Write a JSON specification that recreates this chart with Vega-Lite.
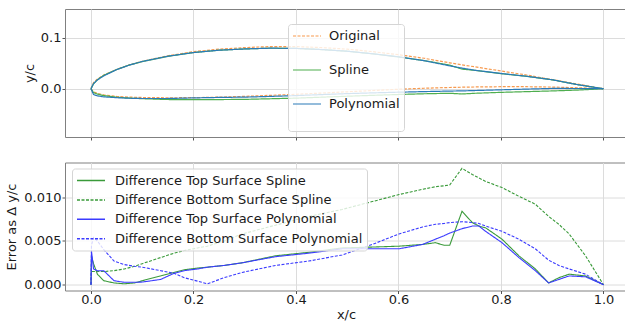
{
 "$schema": "https://vega.github.io/schema/vega-lite/v6.json",
 "autosize": {"type": "pad"},
 "padding": {"left": 5, "top": 8, "right": 0, "bottom": 0},
 "config": {
  "font": "DejaVu Sans",
  "view": {"stroke": "#808080", "strokeWidth": 1},
  "axis": {"labelFont": "DejaVu Sans", "labelFontSize": 13, "labelColor": "#1a1a1a", "titleFont": "DejaVu Sans", "titleFontSize": 13, "titleFontWeight": "normal", "titleColor": "#1a1a1a", "domain": false, "tickColor": "#555", "tickSize": 3, "labelPadding": 1, "gridColor": "#dcdcdc", "grid": true},
  "legend": {"labelFont": "DejaVu Sans", "labelFontSize": 13, "labelColor": "#1a1a1a", "labelLimit": 0},
  "concat": {"spacing": 20.5}
 },
 "resolve": {"scale": {"color": "independent", "strokeDash": "independent"}, "legend": {"color": "independent", "strokeDash": "independent"}},
 "vconcat": [
  {
   "width": 562, "height": 128,
   "data": {"values": [
    {"x":0,"y":0,"s":"Original","f":"u"},{"x":0.005,"y":0.012,"s":"Original","f":"u"},{"x":0.0125,"y":0.019,"s":"Original","f":"u"},{"x":0.025,"y":0.027,"s":"Original","f":"u"},{"x":0.05,"y":0.038,"s":"Original","f":"u"},{"x":0.075,"y":0.047,"s":"Original","f":"u"},{"x":0.1,"y":0.054,"s":"Original","f":"u"},{"x":0.15,"y":0.065,"s":"Original","f":"u"},{"x":0.2,"y":0.073,"s":"Original","f":"u"},{"x":0.25,"y":0.078,"s":"Original","f":"u"},{"x":0.3,"y":0.081,"s":"Original","f":"u"},{"x":0.35,"y":0.083,"s":"Original","f":"u"},{"x":0.4,"y":0.083,"s":"Original","f":"u"},{"x":0.45,"y":0.081,"s":"Original","f":"u"},{"x":0.5,"y":0.078,"s":"Original","f":"u"},{"x":0.55,"y":0.073,"s":"Original","f":"u"},{"x":0.6,"y":0.067,"s":"Original","f":"u"},{"x":0.65,"y":0.06,"s":"Original","f":"u"},{"x":0.7,"y":0.051,"s":"Original","f":"u"},{"x":0.724,"y":0.047,"s":"Original","f":"u"},{"x":0.75,"y":0.043,"s":"Original","f":"u"},{"x":0.8,"y":0.035,"s":"Original","f":"u"},{"x":0.85,"y":0.027,"s":"Original","f":"u"},{"x":0.9,"y":0.018,"s":"Original","f":"u"},{"x":0.95,"y":0.009,"s":"Original","f":"u"},{"x":1,"y":0,"s":"Original","f":"u"},
    {"x":0,"y":0,"s":"Original","f":"l"},{"x":0.005,"y":-0.006,"s":"Original","f":"l"},{"x":0.0125,"y":-0.009,"s":"Original","f":"l"},{"x":0.025,"y":-0.012,"s":"Original","f":"l"},{"x":0.05,"y":-0.015,"s":"Original","f":"l"},{"x":0.075,"y":-0.0165,"s":"Original","f":"l"},{"x":0.1,"y":-0.0172,"s":"Original","f":"l"},{"x":0.15,"y":-0.0178,"s":"Original","f":"l"},{"x":0.2,"y":-0.0175,"s":"Original","f":"l"},{"x":0.25,"y":-0.0165,"s":"Original","f":"l"},{"x":0.3,"y":-0.015,"s":"Original","f":"l"},{"x":0.35,"y":-0.013,"s":"Original","f":"l"},{"x":0.4,"y":-0.011,"s":"Original","f":"l"},{"x":0.45,"y":-0.0085,"s":"Original","f":"l"},{"x":0.5,"y":-0.006,"s":"Original","f":"l"},{"x":0.55,"y":-0.0035,"s":"Original","f":"l"},{"x":0.6,"y":-0.001,"s":"Original","f":"l"},{"x":0.65,"y":0.001,"s":"Original","f":"l"},{"x":0.7,"y":0.0025,"s":"Original","f":"l"},{"x":0.724,"y":0.003,"s":"Original","f":"l"},{"x":0.75,"y":0.0035,"s":"Original","f":"l"},{"x":0.8,"y":0.004,"s":"Original","f":"l"},{"x":0.85,"y":0.004,"s":"Original","f":"l"},{"x":0.9,"y":0.0033,"s":"Original","f":"l"},{"x":0.95,"y":0.002,"s":"Original","f":"l"},{"x":1,"y":0,"s":"Original","f":"l"},
    {"x":0,"y":0,"s":"Spline","f":"u"},{"x":0.005,"y":0.0096,"s":"Spline","f":"u"},{"x":0.0125,"y":0.0178,"s":"Spline","f":"u"},{"x":0.025,"y":0.0265,"s":"Spline","f":"u"},{"x":0.05,"y":0.0378,"s":"Spline","f":"u"},{"x":0.075,"y":0.0469,"s":"Spline","f":"u"},{"x":0.1,"y":0.0535,"s":"Spline","f":"u"},{"x":0.15,"y":0.0638,"s":"Spline","f":"u"},{"x":0.2,"y":0.0712,"s":"Spline","f":"u"},{"x":0.25,"y":0.0759,"s":"Spline","f":"u"},{"x":0.3,"y":0.0784,"s":"Spline","f":"u"},{"x":0.35,"y":0.0798,"s":"Spline","f":"u"},{"x":0.4,"y":0.0794,"s":"Spline","f":"u"},{"x":0.45,"y":0.0771,"s":"Spline","f":"u"},{"x":0.5,"y":0.0738,"s":"Spline","f":"u"},{"x":0.55,"y":0.0687,"s":"Spline","f":"u"},{"x":0.6,"y":0.0626,"s":"Spline","f":"u"},{"x":0.65,"y":0.0554,"s":"Spline","f":"u"},{"x":0.7,"y":0.0465,"s":"Spline","f":"u"},{"x":0.724,"y":0.0386,"s":"Spline","f":"u"},{"x":0.75,"y":0.0361,"s":"Spline","f":"u"},{"x":0.8,"y":0.0297,"s":"Spline","f":"u"},{"x":0.85,"y":0.0244,"s":"Spline","f":"u"},{"x":0.9,"y":0.0176,"s":"Spline","f":"u"},{"x":0.95,"y":0.0079,"s":"Spline","f":"u"},{"x":1,"y":0,"s":"Spline","f":"u"},
    {"x":0,"y":0,"s":"Spline","f":"l"},{"x":0.005,"y":-0.0075,"s":"Spline","f":"l"},{"x":0.0125,"y":-0.0105,"s":"Spline","f":"l"},{"x":0.025,"y":-0.0135,"s":"Spline","f":"l"},{"x":0.05,"y":-0.0166,"s":"Spline","f":"l"},{"x":0.075,"y":-0.0184,"s":"Spline","f":"l"},{"x":0.1,"y":-0.0196,"s":"Spline","f":"l"},{"x":0.15,"y":-0.0212,"s":"Spline","f":"l"},{"x":0.2,"y":-0.0216,"s":"Spline","f":"l"},{"x":0.25,"y":-0.0213,"s":"Spline","f":"l"},{"x":0.3,"y":-0.0209,"s":"Spline","f":"l"},{"x":0.35,"y":-0.0197,"s":"Spline","f":"l"},{"x":0.4,"y":-0.0185,"s":"Spline","f":"l"},{"x":0.45,"y":-0.0166,"s":"Spline","f":"l"},{"x":0.5,"y":-0.0147,"s":"Spline","f":"l"},{"x":0.55,"y":-0.013,"s":"Spline","f":"l"},{"x":0.6,"y":-0.0113,"s":"Spline","f":"l"},{"x":0.65,"y":-0.0099,"s":"Spline","f":"l"},{"x":0.7,"y":-0.0089,"s":"Spline","f":"l"},{"x":0.724,"y":-0.0103,"s":"Spline","f":"l"},{"x":0.75,"y":-0.0089,"s":"Spline","f":"l"},{"x":0.8,"y":-0.0071,"s":"Spline","f":"l"},{"x":0.85,"y":-0.0057,"s":"Spline","f":"l"},{"x":0.9,"y":-0.0043,"s":"Spline","f":"l"},{"x":0.95,"y":-0.0026,"s":"Spline","f":"l"},{"x":1,"y":0,"s":"Spline","f":"l"},
    {"x":0,"y":0,"s":"Polynomial","f":"u"},{"x":0.005,"y":0.0102,"s":"Polynomial","f":"u"},{"x":0.0125,"y":0.0174,"s":"Polynomial","f":"u"},{"x":0.025,"y":0.0254,"s":"Polynomial","f":"u"},{"x":0.05,"y":0.0376,"s":"Polynomial","f":"u"},{"x":0.075,"y":0.0467,"s":"Polynomial","f":"u"},{"x":0.1,"y":0.0537,"s":"Polynomial","f":"u"},{"x":0.15,"y":0.064,"s":"Polynomial","f":"u"},{"x":0.2,"y":0.0713,"s":"Polynomial","f":"u"},{"x":0.25,"y":0.0759,"s":"Polynomial","f":"u"},{"x":0.3,"y":0.0784,"s":"Polynomial","f":"u"},{"x":0.35,"y":0.0799,"s":"Polynomial","f":"u"},{"x":0.4,"y":0.0795,"s":"Polynomial","f":"u"},{"x":0.45,"y":0.0772,"s":"Polynomial","f":"u"},{"x":0.5,"y":0.0739,"s":"Polynomial","f":"u"},{"x":0.55,"y":0.0689,"s":"Polynomial","f":"u"},{"x":0.6,"y":0.0629,"s":"Polynomial","f":"u"},{"x":0.65,"y":0.0553,"s":"Polynomial","f":"u"},{"x":0.7,"y":0.0451,"s":"Polynomial","f":"u"},{"x":0.724,"y":0.0406,"s":"Polynomial","f":"u"},{"x":0.75,"y":0.0363,"s":"Polynomial","f":"u"},{"x":0.8,"y":0.0301,"s":"Polynomial","f":"u"},{"x":0.85,"y":0.0246,"s":"Polynomial","f":"u"},{"x":0.9,"y":0.0177,"s":"Polynomial","f":"u"},{"x":0.95,"y":0.008,"s":"Polynomial","f":"u"},{"x":1,"y":0,"s":"Polynomial","f":"u"},
    {"x":0,"y":0,"s":"Polynomial","f":"l"},{"x":0.005,"y":-0.0114,"s":"Polynomial","f":"l"},{"x":0.0125,"y":-0.014,"s":"Polynomial","f":"l"},{"x":0.025,"y":-0.016,"s":"Polynomial","f":"l"},{"x":0.05,"y":-0.0176,"s":"Polynomial","f":"l"},{"x":0.075,"y":-0.0187,"s":"Polynomial","f":"l"},{"x":0.1,"y":-0.0192,"s":"Polynomial","f":"l"},{"x":0.15,"y":-0.0192,"s":"Polynomial","f":"l"},{"x":0.2,"y":-0.018,"s":"Polynomial","f":"l"},{"x":0.25,"y":-0.0171,"s":"Polynomial","f":"l"},{"x":0.3,"y":-0.0165,"s":"Polynomial","f":"l"},{"x":0.35,"y":-0.0151,"s":"Polynomial","f":"l"},{"x":0.4,"y":-0.0135,"s":"Polynomial","f":"l"},{"x":0.45,"y":-0.0115,"s":"Polynomial","f":"l"},{"x":0.5,"y":-0.0096,"s":"Polynomial","f":"l"},{"x":0.55,"y":-0.0081,"s":"Polynomial","f":"l"},{"x":0.6,"y":-0.0068,"s":"Polynomial","f":"l"},{"x":0.65,"y":-0.0056,"s":"Polynomial","f":"l"},{"x":0.7,"y":-0.0046,"s":"Polynomial","f":"l"},{"x":0.724,"y":-0.0042,"s":"Polynomial","f":"l"},{"x":0.75,"y":-0.0035,"s":"Polynomial","f":"l"},{"x":0.8,"y":-0.0021,"s":"Polynomial","f":"l"},{"x":0.85,"y":-0.0007,"s":"Polynomial","f":"l"},{"x":0.9,"y":0.0006,"s":"Polynomial","f":"l"},{"x":0.95,"y":0.0005,"s":"Polynomial","f":"l"},{"x":1,"y":0,"s":"Polynomial","f":"l"}
   ]},
   "mark": {"type": "line", "strokeWidth": 1.2, "clip": true},
   "encoding": {
    "x": {"field": "x", "type": "quantitative", "scale": {"domain": [-0.0507, 1.0459], "nice": false, "zero": false}, "axis": {"values": [0, 0.2, 0.4, 0.6, 0.8, 1], "labels": false, "title": null}},
    "y": {"field": "y", "type": "quantitative", "scale": {"domain": [-0.095, 0.157], "nice": false, "zero": false}, "axis": {"values": [0, 0.1], "format": ".1f", "title": "y/c", "titlePadding": 4}},
    "color": {"field": "s", "type": "nominal", "scale": {"domain": ["Original", "Spline", "Polynomial"], "range": ["#f79a4f", "#4fae4f", "#2a7ab8"]},
     "legend": {"title": " ", "titleOrient": "bottom", "titleFontSize": 13, "titlePadding": 3, "orient": "none", "legendX": 223, "legendY": 15, "symbolType": "M-2,0H2", "symbolSize": 196, "symbolStrokeWidth": 1.2, "symbolOffset": 7, "labelOffset": 14, "rowPadding": 19, "padding": 4, "fillColor": "rgba(255,255,255,0.8)", "strokeColor": "#d5d5d5", "cornerRadius": 3}},
    "strokeDash": {"field": "s", "type": "nominal", "scale": {"domain": ["Original", "Spline", "Polynomial"], "range": [[3, 1.5], [1, 0], [1, 0]]},
     "legend": {"title": " ", "titleOrient": "bottom", "titleFontSize": 13, "titlePadding": 3, "orient": "none", "legendX": 223, "legendY": 15, "symbolType": "M-2,0H2", "symbolSize": 196, "symbolStrokeWidth": 1.2, "symbolOffset": 7, "labelOffset": 14, "rowPadding": 19, "padding": 4, "fillColor": "rgba(255,255,255,0.8)", "strokeColor": "#d5d5d5", "cornerRadius": 3}},
    "detail": {"field": "f"}
   }
  },
  {
   "width": 562, "height": 128,
   "data": {"values": [
    {"x":0,"e":0,"s":"Difference Top Surface Spline"},{"x":0.001,"e":0.0033,"s":"Difference Top Surface Spline"},{"x":0.005,"e":0.0024,"s":"Difference Top Surface Spline"},{"x":0.0125,"e":0.0012,"s":"Difference Top Surface Spline"},{"x":0.025,"e":0.00045,"s":"Difference Top Surface Spline"},{"x":0.045,"e":0.0002,"s":"Difference Top Surface Spline"},{"x":0.065,"e":0.0001,"s":"Difference Top Surface Spline"},{"x":0.085,"e":0.0002,"s":"Difference Top Surface Spline"},{"x":0.1,"e":0.00045,"s":"Difference Top Surface Spline"},{"x":0.136,"e":0.001,"s":"Difference Top Surface Spline"},{"x":0.162,"e":0.0014,"s":"Difference Top Surface Spline"},{"x":0.182,"e":0.0017,"s":"Difference Top Surface Spline"},{"x":0.208,"e":0.0019,"s":"Difference Top Surface Spline"},{"x":0.227,"e":0.002,"s":"Difference Top Surface Spline"},{"x":0.26,"e":0.0022,"s":"Difference Top Surface Spline"},{"x":0.295,"e":0.0025,"s":"Difference Top Surface Spline"},{"x":0.36,"e":0.0033,"s":"Difference Top Surface Spline"},{"x":0.425,"e":0.0037,"s":"Difference Top Surface Spline"},{"x":0.49,"e":0.0042,"s":"Difference Top Surface Spline"},{"x":0.549,"e":0.0043,"s":"Difference Top Surface Spline"},{"x":0.601,"e":0.0044,"s":"Difference Top Surface Spline"},{"x":0.647,"e":0.0046,"s":"Difference Top Surface Spline"},{"x":0.672,"e":0.0048,"s":"Difference Top Surface Spline"},{"x":0.689,"e":0.0045,"s":"Difference Top Surface Spline"},{"x":0.7,"e":0.0045,"s":"Difference Top Surface Spline"},{"x":0.724,"e":0.0084,"s":"Difference Top Surface Spline"},{"x":0.744,"e":0.0071,"s":"Difference Top Surface Spline"},{"x":0.757,"e":0.0067,"s":"Difference Top Surface Spline"},{"x":0.77,"e":0.0065,"s":"Difference Top Surface Spline"},{"x":0.802,"e":0.0052,"s":"Difference Top Surface Spline"},{"x":0.835,"e":0.0033,"s":"Difference Top Surface Spline"},{"x":0.867,"e":0.0018,"s":"Difference Top Surface Spline"},{"x":0.893,"e":0.0002,"s":"Difference Top Surface Spline"},{"x":0.913,"e":0.0008,"s":"Difference Top Surface Spline"},{"x":0.933,"e":0.0012,"s":"Difference Top Surface Spline"},{"x":0.965,"e":0.001,"s":"Difference Top Surface Spline"},{"x":1,"e":0,"s":"Difference Top Surface Spline"},
    {"x":0,"e":0,"s":"Difference Bottom Surface Spline"},{"x":0.001,"e":0.0015,"s":"Difference Bottom Surface Spline"},{"x":0.005,"e":0.0015,"s":"Difference Bottom Surface Spline"},{"x":0.0125,"e":0.0015,"s":"Difference Bottom Surface Spline"},{"x":0.025,"e":0.0015,"s":"Difference Bottom Surface Spline"},{"x":0.045,"e":0.0016,"s":"Difference Bottom Surface Spline"},{"x":0.065,"e":0.0018,"s":"Difference Bottom Surface Spline"},{"x":0.085,"e":0.0021,"s":"Difference Bottom Surface Spline"},{"x":0.1,"e":0.0024,"s":"Difference Bottom Surface Spline"},{"x":0.136,"e":0.0031,"s":"Difference Bottom Surface Spline"},{"x":0.162,"e":0.0036,"s":"Difference Bottom Surface Spline"},{"x":0.182,"e":0.0039,"s":"Difference Bottom Surface Spline"},{"x":0.208,"e":0.0042,"s":"Difference Bottom Surface Spline"},{"x":0.227,"e":0.0044,"s":"Difference Bottom Surface Spline"},{"x":0.26,"e":0.005,"s":"Difference Bottom Surface Spline"},{"x":0.295,"e":0.0058,"s":"Difference Bottom Surface Spline"},{"x":0.36,"e":0.0068,"s":"Difference Bottom Surface Spline"},{"x":0.425,"e":0.0078,"s":"Difference Bottom Surface Spline"},{"x":0.49,"e":0.0086,"s":"Difference Bottom Surface Spline"},{"x":0.549,"e":0.0095,"s":"Difference Bottom Surface Spline"},{"x":0.601,"e":0.0103,"s":"Difference Bottom Surface Spline"},{"x":0.647,"e":0.0109,"s":"Difference Bottom Surface Spline"},{"x":0.672,"e":0.0112,"s":"Difference Bottom Surface Spline"},{"x":0.689,"e":0.0113,"s":"Difference Bottom Surface Spline"},{"x":0.7,"e":0.0114,"s":"Difference Bottom Surface Spline"},{"x":0.724,"e":0.0133,"s":"Difference Bottom Surface Spline"},{"x":0.744,"e":0.0126,"s":"Difference Bottom Surface Spline"},{"x":0.757,"e":0.0122,"s":"Difference Bottom Surface Spline"},{"x":0.77,"e":0.0118,"s":"Difference Bottom Surface Spline"},{"x":0.802,"e":0.0111,"s":"Difference Bottom Surface Spline"},{"x":0.835,"e":0.0101,"s":"Difference Bottom Surface Spline"},{"x":0.867,"e":0.0092,"s":"Difference Bottom Surface Spline"},{"x":0.893,"e":0.0078,"s":"Difference Bottom Surface Spline"},{"x":0.913,"e":0.0069,"s":"Difference Bottom Surface Spline"},{"x":0.933,"e":0.0058,"s":"Difference Bottom Surface Spline"},{"x":0.965,"e":0.0033,"s":"Difference Bottom Surface Spline"},{"x":1,"e":0,"s":"Difference Bottom Surface Spline"},
    {"x":0,"e":0,"s":"Difference Top Surface Polynomial"},{"x":0.001,"e":0.0038,"s":"Difference Top Surface Polynomial"},{"x":0.005,"e":0.0018,"s":"Difference Top Surface Polynomial"},{"x":0.0125,"e":0.0016,"s":"Difference Top Surface Polynomial"},{"x":0.025,"e":0.0016,"s":"Difference Top Surface Polynomial"},{"x":0.045,"e":0.00045,"s":"Difference Top Surface Polynomial"},{"x":0.065,"e":0.00027,"s":"Difference Top Surface Polynomial"},{"x":0.085,"e":0.00027,"s":"Difference Top Surface Polynomial"},{"x":0.1,"e":0.0003,"s":"Difference Top Surface Polynomial"},{"x":0.136,"e":0.0006,"s":"Difference Top Surface Polynomial"},{"x":0.162,"e":0.0013,"s":"Difference Top Surface Polynomial"},{"x":0.182,"e":0.0016,"s":"Difference Top Surface Polynomial"},{"x":0.208,"e":0.0018,"s":"Difference Top Surface Polynomial"},{"x":0.227,"e":0.002,"s":"Difference Top Surface Polynomial"},{"x":0.26,"e":0.0022,"s":"Difference Top Surface Polynomial"},{"x":0.295,"e":0.0025,"s":"Difference Top Surface Polynomial"},{"x":0.36,"e":0.0032,"s":"Difference Top Surface Polynomial"},{"x":0.425,"e":0.0036,"s":"Difference Top Surface Polynomial"},{"x":0.49,"e":0.0041,"s":"Difference Top Surface Polynomial"},{"x":0.549,"e":0.0041,"s":"Difference Top Surface Polynomial"},{"x":0.601,"e":0.0041,"s":"Difference Top Surface Polynomial"},{"x":0.647,"e":0.0046,"s":"Difference Top Surface Polynomial"},{"x":0.672,"e":0.0052,"s":"Difference Top Surface Polynomial"},{"x":0.689,"e":0.0056,"s":"Difference Top Surface Polynomial"},{"x":0.7,"e":0.0059,"s":"Difference Top Surface Polynomial"},{"x":0.724,"e":0.0064,"s":"Difference Top Surface Polynomial"},{"x":0.744,"e":0.0067,"s":"Difference Top Surface Polynomial"},{"x":0.757,"e":0.0067,"s":"Difference Top Surface Polynomial"},{"x":0.77,"e":0.0061,"s":"Difference Top Surface Polynomial"},{"x":0.802,"e":0.0048,"s":"Difference Top Surface Polynomial"},{"x":0.835,"e":0.0031,"s":"Difference Top Surface Polynomial"},{"x":0.867,"e":0.0016,"s":"Difference Top Surface Polynomial"},{"x":0.893,"e":0.0002,"s":"Difference Top Surface Polynomial"},{"x":0.913,"e":0.0006,"s":"Difference Top Surface Polynomial"},{"x":0.933,"e":0.001,"s":"Difference Top Surface Polynomial"},{"x":0.965,"e":0.0009,"s":"Difference Top Surface Polynomial"},{"x":1,"e":0,"s":"Difference Top Surface Polynomial"},
    {"x":0,"e":0,"s":"Difference Bottom Surface Polynomial"},{"x":0.001,"e":0.0045,"s":"Difference Bottom Surface Polynomial"},{"x":0.005,"e":0.0054,"s":"Difference Bottom Surface Polynomial"},{"x":0.0125,"e":0.005,"s":"Difference Bottom Surface Polynomial"},{"x":0.025,"e":0.004,"s":"Difference Bottom Surface Polynomial"},{"x":0.045,"e":0.0027,"s":"Difference Bottom Surface Polynomial"},{"x":0.065,"e":0.0023,"s":"Difference Bottom Surface Polynomial"},{"x":0.085,"e":0.0021,"s":"Difference Bottom Surface Polynomial"},{"x":0.1,"e":0.002,"s":"Difference Bottom Surface Polynomial"},{"x":0.136,"e":0.0016,"s":"Difference Bottom Surface Polynomial"},{"x":0.162,"e":0.0013,"s":"Difference Bottom Surface Polynomial"},{"x":0.182,"e":0.0008,"s":"Difference Bottom Surface Polynomial"},{"x":0.208,"e":0.0004,"s":"Difference Bottom Surface Polynomial"},{"x":0.227,"e":0.0001,"s":"Difference Bottom Surface Polynomial"},{"x":0.26,"e":0.0008,"s":"Difference Bottom Surface Polynomial"},{"x":0.295,"e":0.0014,"s":"Difference Bottom Surface Polynomial"},{"x":0.36,"e":0.0022,"s":"Difference Bottom Surface Polynomial"},{"x":0.425,"e":0.0027,"s":"Difference Bottom Surface Polynomial"},{"x":0.49,"e":0.0034,"s":"Difference Bottom Surface Polynomial"},{"x":0.549,"e":0.0046,"s":"Difference Bottom Surface Polynomial"},{"x":0.601,"e":0.0058,"s":"Difference Bottom Surface Polynomial"},{"x":0.647,"e":0.0066,"s":"Difference Bottom Surface Polynomial"},{"x":0.672,"e":0.0069,"s":"Difference Bottom Surface Polynomial"},{"x":0.689,"e":0.007,"s":"Difference Bottom Surface Polynomial"},{"x":0.7,"e":0.0071,"s":"Difference Bottom Surface Polynomial"},{"x":0.724,"e":0.0072,"s":"Difference Bottom Surface Polynomial"},{"x":0.744,"e":0.0071,"s":"Difference Bottom Surface Polynomial"},{"x":0.757,"e":0.007,"s":"Difference Bottom Surface Polynomial"},{"x":0.77,"e":0.0067,"s":"Difference Bottom Surface Polynomial"},{"x":0.802,"e":0.0061,"s":"Difference Bottom Surface Polynomial"},{"x":0.835,"e":0.0052,"s":"Difference Bottom Surface Polynomial"},{"x":0.867,"e":0.0041,"s":"Difference Bottom Surface Polynomial"},{"x":0.893,"e":0.0028,"s":"Difference Bottom Surface Polynomial"},{"x":0.913,"e":0.0022,"s":"Difference Bottom Surface Polynomial"},{"x":0.933,"e":0.0018,"s":"Difference Bottom Surface Polynomial"},{"x":0.965,"e":0.0012,"s":"Difference Bottom Surface Polynomial"},{"x":1,"e":0,"s":"Difference Bottom Surface Polynomial"}
   ]},
   "mark": {"type": "line", "strokeWidth": 1.1, "clip": true},
   "encoding": {
    "x": {"field": "x", "type": "quantitative", "scale": {"domain": [-0.0507, 1.0459], "nice": false, "zero": false}, "axis": {"values": [0, 0.2, 0.4, 0.6, 0.8, 1], "format": ".1f", "title": "x/c", "titlePadding": 2, "labelPadding": 0}},
    "y": {"field": "e", "type": "quantitative", "scale": {"domain": [-0.000665, 0.013965], "nice": false, "zero": false}, "axis": {"values": [0, 0.005, 0.01], "format": ".3f", "title": "Error as Δ y/c", "titlePadding": 5}},
    "color": {"field": "s", "type": "nominal", "scale": {"domain": ["Difference Top Surface Spline", "Difference Bottom Surface Spline", "Difference Top Surface Polynomial", "Difference Bottom Surface Polynomial"], "range": ["#3a9a3a", "#3a9a3a", "#3b3bff", "#3b3bff"]},
     "legend": {"title": null, "orient": "none", "legendX": 7, "legendY": 6, "symbolType": "M-2,0H2", "symbolSize": 196, "symbolStrokeWidth": 1.5, "symbolOffset": 7, "labelOffset": 16, "rowPadding": 4.4, "padding": 4, "fillColor": "rgba(255,255,255,0.8)", "strokeColor": "#d5d5d5", "cornerRadius": 3}},
    "strokeDash": {"field": "s", "type": "nominal", "scale": {"domain": ["Difference Top Surface Spline", "Difference Bottom Surface Spline", "Difference Top Surface Polynomial", "Difference Bottom Surface Polynomial"], "range": [[1, 0], [3, 1.5], [1, 0], [3, 1.5]]},
     "legend": {"title": null, "orient": "none", "legendX": 7, "legendY": 6, "symbolType": "M-2,0H2", "symbolSize": 196, "symbolStrokeWidth": 1.5, "symbolOffset": 7, "labelOffset": 16, "rowPadding": 4.4, "padding": 4, "fillColor": "rgba(255,255,255,0.8)", "strokeColor": "#d5d5d5", "cornerRadius": 3}}
   }
  }
 ]
}
